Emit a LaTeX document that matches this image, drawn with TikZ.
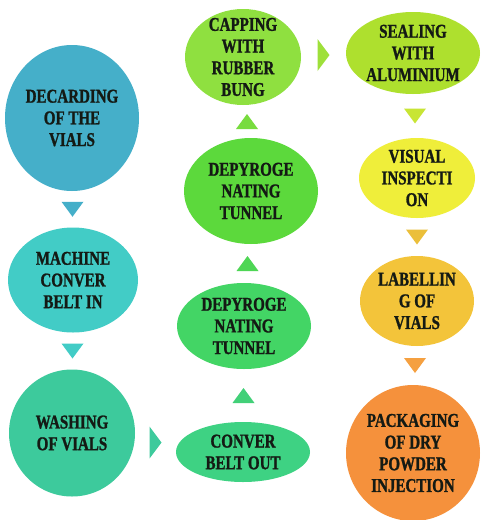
\documentclass[tikz,border=0pt]{standalone}
\usepackage{fontspec}
\newfontfamily\condserif{Liberation Serif}[FakeStretch=0.77, BoldFeatures={FakeBold=1.2}]
\usetikzlibrary{shapes.geometric}
\definecolor{textc}{HTML}{141A14}
\definecolor{cdec}{HTML}{45AFC9}
\definecolor{cmach}{HTML}{42CCC6}
\definecolor{cwash}{HTML}{3DCA9C}
\definecolor{cout}{HTML}{3ED283}
\definecolor{cdeptwo}{HTML}{43D565}
\definecolor{cdepone}{HTML}{5CD93C}
\definecolor{ccap}{HTML}{8FE040}
\definecolor{cseal}{HTML}{AEE02E}
\definecolor{cvis}{HTML}{EFEE3A}
\definecolor{clab}{HTML}{F3C43A}
\definecolor{cpack}{HTML}{F5913C}
\definecolor{tfour}{HTML}{42D078}
\definecolor{tfive}{HTML}{4ED655}
\definecolor{tsix}{HTML}{78DC3E}
\definecolor{tseven}{HTML}{9EE03A}
\definecolor{teight}{HTML}{C8E535}
\definecolor{tnine}{HTML}{EBBF3A}
\definecolor{tten}{HTML}{F5A040}
\begin{document}
\begin{tikzpicture}[x=1pt,y=-1pt,
  stage/.style={ellipse, inner sep=0pt, draw=none},
  txt/.style={align=center, text=textc, inner sep=0pt,
    font=\condserif\bfseries\fontsize{19.5}{21.7}\selectfont},
  pics/tridown/.style={code={\fill[#1] (-11,-7.5) -- (11,-7.5) -- (0,7.5) -- cycle;}},
  pics/triright/.style={code={\fill[#1] (-6,-16) -- (-6,16) -- (6,0) -- cycle;}},
]
\fill[white] (0,0) rectangle (482,520);
\useasboundingbox (0,0) rectangle (482,520);

\node[stage, fill=cdec, minimum width=134pt, minimum height=146pt,
  label={[txt]center:{DECARDING\\OF THE\\VIALS}}] (dec) at (72,118) {};
\node[stage, fill=cmach, minimum width=130pt, minimum height=105pt,
  label={[txt]center:{MACHINE\\CONVER\\BELT IN}}] (mach) at (73,280) {};
\node[stage, fill=cwash, minimum width=126pt, minimum height=127pt,
  label={[txt]center:{WASHING\\OF VIALS}}] (wash) at (72,433) {};
\node[stage, fill=cout, minimum width=134pt, minimum height=60pt,
  label={[txt]center:{CONVER\\BELT OUT}}] (cout) at (243,452) {};
\node[stage, fill=cdeptwo, minimum width=134pt, minimum height=86pt,
  label={[txt]center:{DEPYROGE\\NATING\\TUNNEL}}] (deptwo) at (244,326) {};
\node[stage, fill=cdepone, minimum width=134pt, minimum height=106pt,
  label={[txt]center:{DEPYROGE\\NATING\\TUNNEL}}] (depone) at (251,191) {};
\node[stage, fill=ccap, minimum width=116pt, minimum height=96pt,
  label={[txt]center:{CAPPING\\WITH\\RUBBER\\BUNG}}] (cap) at (243,57) {};
\node[stage, fill=cseal, minimum width=134pt, minimum height=82pt,
  label={[txt]center:{SEALING\\WITH\\ALUMINIUM}}] (seal) at (413,53) {};
\node[stage, fill=cvis, minimum width=116pt, minimum height=80pt,
  label={[txt]center:{VISUAL\\INSPECTI\\ON}}] (vis) at (417,178) {};
\node[stage, fill=clab, minimum width=114pt, minimum height=90pt,
  label={[txt]center:{LABELLIN\\G OF\\VIALS}}] (lab) at (417,301) {};
\node[stage, fill=cpack, minimum width=134pt, minimum height=136pt,
  label={[txt]center:{PACKAGING\\OF DRY\\POWDER\\INJECTION}}] (pack) at (413,453) {};

% connectors (triangles midway between stages)
\path (dec.south) -- coordinate[midway] (ta) (mach.north);
\path (mach.south) -- coordinate[midway] (tb) (wash.north);
\path (wash.east) -- coordinate[midway] (tc) (cout.west);
\path (cout.north) -- coordinate[midway] (td) (deptwo.south);
\path (deptwo.north) -- coordinate[midway] (te) (depone.south);
\path (depone.north) -- coordinate[midway] (tf) (cap.south);
\path (cap.east) -- coordinate[midway] (tg) (seal.west);
\path (seal.south) -- coordinate[midway] (th) (vis.north);
\path (vis.south) -- coordinate[midway] (ti) (lab.north);
\path (lab.south) -- coordinate[midway] (tj) (pack.north);

\pic at (ta) {tridown=cdec};
\pic at (tb) {tridown=cmach};
\pic at (tc) {triright=cwash};
\pic[rotate=180] at (td) {tridown=tfour};
\pic[rotate=180] at (te) {tridown=tfive};
\pic[rotate=180] at (tf) {tridown=tsix};
\pic at (tg) {triright=tseven};
\pic at (th) {tridown=teight};
\pic at (ti) {tridown=tnine};
\pic at (tj) {tridown=tten};
\end{tikzpicture}
\end{document}
